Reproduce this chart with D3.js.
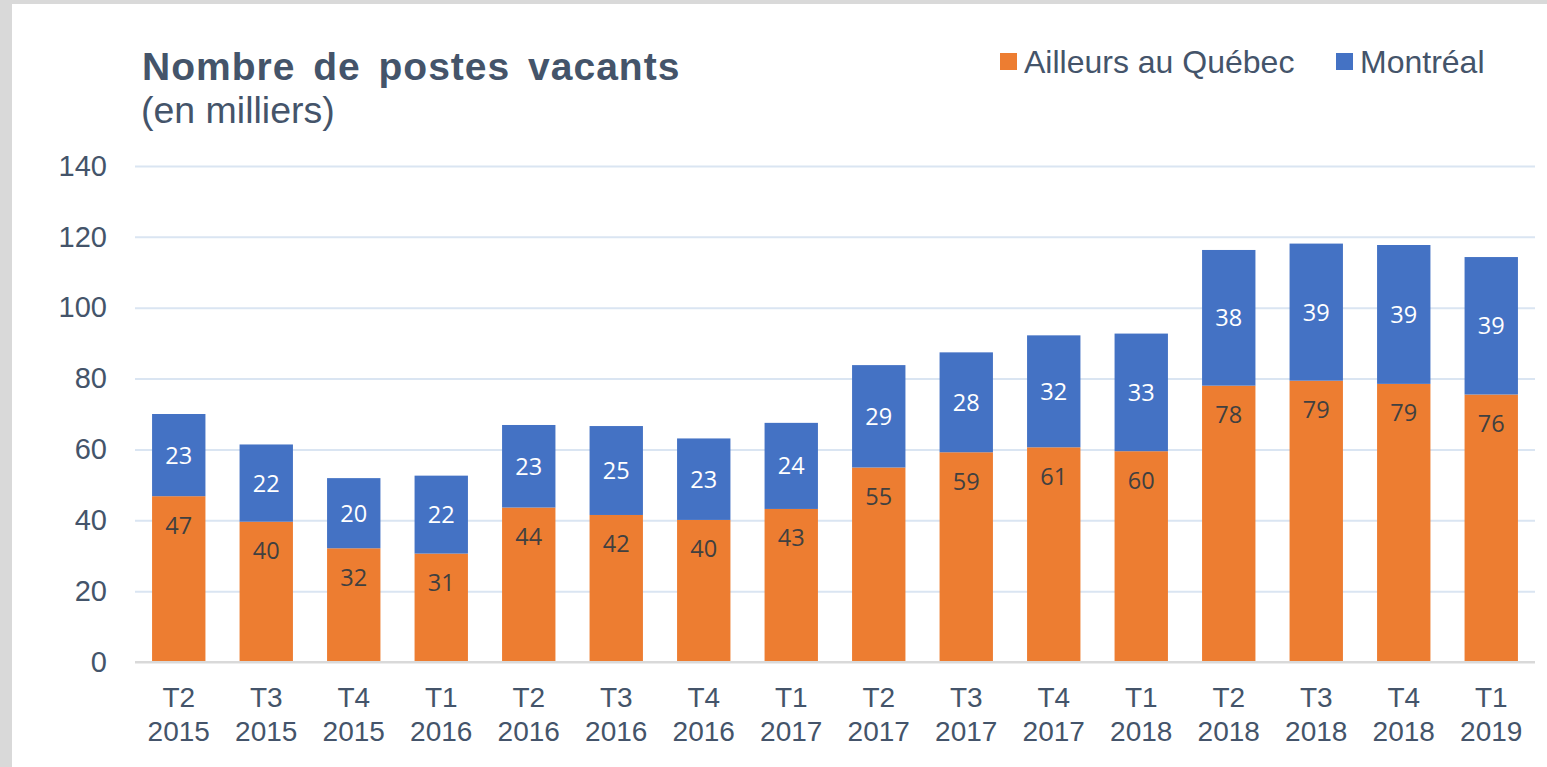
<!DOCTYPE html>
<html>
<head>
<meta charset="utf-8">
<script src="https://cdn.jsdelivr.net/npm/d3@7"></script>
<style>
  html, body { margin: 0; padding: 0; background: #fff; }
  #chart { width: 1547px; height: 767px; }
</style>
</head>
<body>
<div id="chart"></div>
<script>
// categories (trimestre / année)
const quarters = ["T2", "T3", "T4", "T1", "T2", "T3", "T4", "T1", "T2", "T3", "T4", "T1", "T2", "T3", "T4", "T1"];
const years = ["2015", "2015", "2015", "2016", "2016", "2016", "2016", "2017", "2017", "2017", "2017", "2018", "2018", "2018", "2018", "2019"];
// series values, in thousands
const ailleurs = [46.8, 39.6, 32.1, 30.6, 43.6, 41.5, 40.1, 43.2, 54.9, 59.2, 60.6, 59.5, 78.0, 79.4, 78.5, 75.5];
const montreal = [23.2, 21.8, 19.8, 22.0, 23.3, 25.1, 23.0, 24.3, 28.9, 28.2, 31.6, 33.2, 38.3, 38.7, 39.2, 38.8];
const yTicks = [0, 20, 40, 60, 80, 100, 120, 140];
const seriesNames = ["Ailleurs au Québec", "Montréal"];

const width = 1547, height = 767;
const textColor = "#44546A";
const colors = ["#ED7D31", "#4472C4"];
const arial = "'Liberation Sans', Arial, sans-serif";

const svg = d3.select("#chart")
    .append("svg")
    .attr("width", width)
    .attr("height", height);

// grey frame left / top
svg.append("rect").attr("x", 0).attr("y", 0).attr("width", width).attr("height", 4).attr("fill", "#D9D9D9");
svg.append("rect").attr("x", 0).attr("y", 0).attr("width", 12).attr("height", height).attr("fill", "#D9D9D9");

const data = quarters.map((q, i) => ({ key: q + " " + years[i], q: q, yr: years[i], a: ailleurs[i], m: montreal[i] }));

const x = d3.scaleBand()
    .domain(data.map(d => d.key))
    .range([135, 1535])
    .paddingInner(0.39)
    .paddingOuter(0.195);

const y = d3.scaleLinear()
    .domain([0, 140])
    .range([662, 166]);

// gridlines + y labels
const yAxis = svg.append("g")
    .attr("transform", "translate(135,0)")
    .call(d3.axisLeft(y).tickValues(yTicks).tickSize(-1400).tickPadding(28));
yAxis.select(".domain").remove();
yAxis.selectAll(".tick line")
    .attr("stroke", d => d === 0 ? "#D9D9D9" : "#DAE5F2")
    .attr("stroke-width", 2);
yAxis.selectAll(".tick text")
    .attr("fill", textColor)
    .style("font-family", arial)
    .style("font-size", "29px");

// stacked bars
const stack = d3.stack().keys(["a", "m"])(data);

svg.append("g")
    .selectAll("g")
    .data(stack)
    .join("g")
    .attr("fill", (s, i) => colors[i])
    .selectAll("rect")
    .data(s => s)
    .join("rect")
    .attr("x", d => x(d.data.key))
    .attr("width", x.bandwidth())
    .attr("y", d => y(d[1]))
    .attr("height", d => y(d[0]) - y(d[1]));

// zero axis on top of bars
svg.append("line")
    .attr("x1", 135).attr("x2", 1535)
    .attr("y1", y(0)).attr("y2", y(0))
    .attr("stroke", "#D9D9D9").attr("stroke-width", 2);

// data labels
const fmt = d3.format(".0f");
const labelFont = "'Open Sans', 'Noto Sans', sans-serif";
svg.append("g")
    .selectAll("text")
    .data(data)
    .join("text")
    .attr("x", d => x(d.key) + x.bandwidth() / 2)
    .attr("y", d => y(d.a) + 29)
    .attr("dy", "0.36em")
    .attr("text-anchor", "middle")
    .attr("fill", "#404040")
    .style("font-family", labelFont)
    .style("font-size", "23.5px")
    .text(d => fmt(d.a));

svg.append("g")
    .selectAll("text")
    .data(data)
    .join("text")
    .attr("x", d => x(d.key) + x.bandwidth() / 2)
    .attr("y", d => (y(d.a) + y(d.a + d.m)) / 2)
    .attr("dy", "0.36em")
    .attr("text-anchor", "middle")
    .attr("fill", "#fff")
    .style("font-family", labelFont)
    .style("font-size", "23.5px")
    .text(d => fmt(d.m));

// x labels on two lines
const xl = svg.append("g")
    .selectAll("text")
    .data(data)
    .join("text")
    .attr("text-anchor", "middle")
    .attr("fill", textColor)
    .style("font-family", arial)
    .style("font-size", "28px");
xl.append("tspan")
    .attr("x", d => x(d.key) + x.bandwidth() / 2)
    .attr("y", 707)
    .text(d => d.q);
xl.append("tspan")
    .attr("x", d => x(d.key) + x.bandwidth() / 2)
    .attr("y", 741)
    .text(d => d.yr);

// title
svg.append("text")
    .attr("x", 142).attr("y", 80)
    .attr("fill", textColor)
    .style("font-family", arial)
    .style("font-weight", "bold")
    .style("font-size", "39px")
    .style("word-spacing", "6px")
    .style("letter-spacing", "1px")
    .text("Nombre de postes vacants");

svg.append("text")
    .attr("x", 141).attr("y", 123)
    .attr("fill", textColor)
    .style("font-family", arial)
    .style("font-size", "37.5px")
    .text("(en milliers)");

// legend
const legendX = [1000, 1336];
const lg = svg.append("g")
    .selectAll("g")
    .data(seriesNames)
    .join("g")
    .attr("transform", (d, i) => `translate(${legendX[i]},0)`);
lg.append("rect")
    .attr("x", 0).attr("y", 53)
    .attr("width", 17).attr("height", 17)
    .attr("fill", (d, i) => colors[i]);
lg.append("text")
    .attr("x", 24).attr("y", 73)
    .attr("fill", textColor)
    .style("font-family", arial)
    .style("font-size", "32px")
    .text(d => d);
</script>
</body>
</html>
